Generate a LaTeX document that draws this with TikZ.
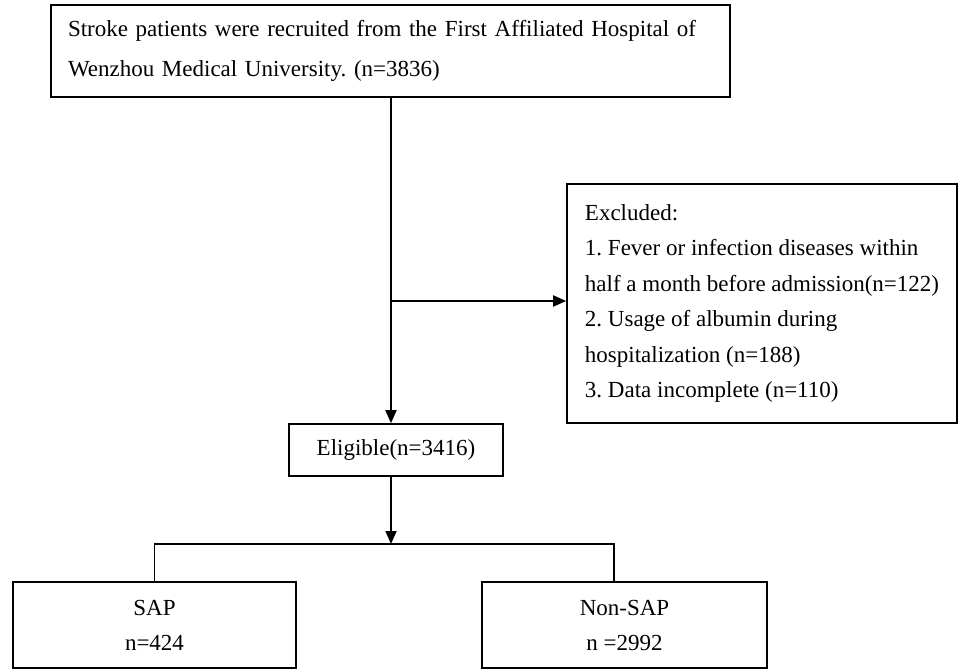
\documentclass[tikz,border=0pt]{standalone}
\usepackage{fontspec}
\setmainfont{Liberation Serif}
\usetikzlibrary{arrows.meta}
\begin{document}
\frenchspacing
\begin{tikzpicture}[x=1pt,y=-1pt,
  box/.style={draw,line width=1.6pt,inner sep=0pt},
  conn/.style={line width=1.8pt,-{Triangle[length=13pt,width=11pt]}},
  split/.style={line width=1.3pt},
  font=\fontsize{23}{40}\selectfont\frenchspacing]
\useasboundingbox (0,0) rectangle (959,669);
\node[box,minimum width=679pt,minimum height=92pt,text width=645pt,align=left] (top) at (390.5,51)
  {Stroke patients were recruited from the First Affiliated Hospital of\\Wenzhou Medical University. (n=3836)};
\node[box,minimum width=390pt,minimum height=239pt,align=left,
  font=\fontsize{23}{35.5}\selectfont\frenchspacing] (excl) at (762,303.5)
  {Excluded:\\1. Fever or infection diseases within\\half a month before admission(n=122)\\2. Usage of albumin during\\hospitalization (n=188)\\3. Data incomplete (n=110)};
\node[box,minimum width=214pt,minimum height=52pt] (elig) at (396,450) {Eligible(n=3416)};
\node[box,minimum width=283pt,minimum height=86pt,align=center,font=\fontsize{23}{35}\selectfont] (sap) at (154.5,625) {SAP\\n=424};
\node[box,minimum width=285pt,minimum height=86pt,align=center,font=\fontsize{23}{35}\selectfont\frenchspacing] (nonsap) at (624.5,625) {Non-SAP\\n =2992};
\coordinate (br) at (391,301);
\coordinate (sp) at (391,544);
\coordinate (nsdrop) at (614,582);
\draw[conn] (top.south -| br) -- (elig.north -| br);
\draw[conn] (br) -- (br -| excl.west);
\draw[conn] (elig.south -| br) -- (sp);
\draw[split] (sap.north) |- (sp) -| (nsdrop);
\end{tikzpicture}
\end{document}
